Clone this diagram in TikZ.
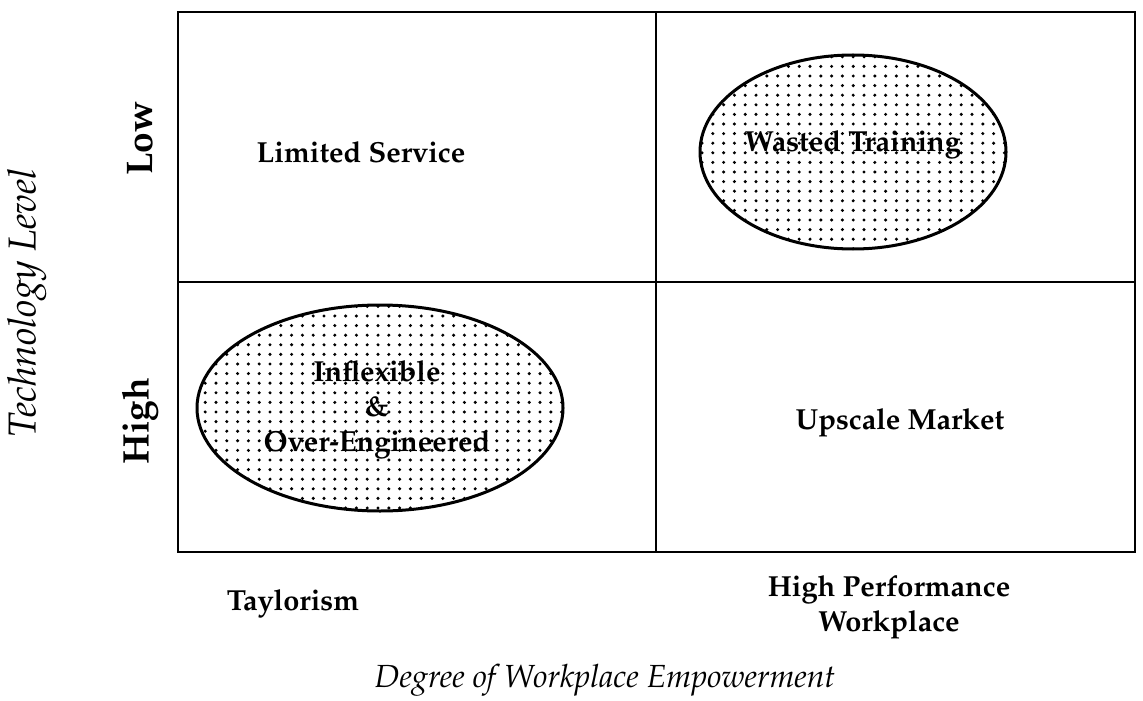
\documentclass[tikz,border=0pt]{standalone}
\usepackage[T1]{fontenc}
\usepackage{mathpazo}
\usetikzlibrary{shapes.geometric,patterns}

% coarse dot screen for the shaded ellipses
\pgfdeclarepatternformonly{stipple}{\pgfqpoint{-1pt}{-1pt}}{\pgfqpoint{1pt}{1pt}}{\pgfqpoint{5.4pt}{4.8pt}}{%
  \pgfpathcircle{\pgfpointorigin}{0.85pt}\pgfusepath{fill}}

\tikzset{
  quad/.style={font=\fontsize{14.5}{17.5}\selectfont\bfseries, align=center},
  side/.style={font=\fontsize{18.5}{22}\selectfont\bfseries, rotate=90},
  axis/.style={font=\fontsize{16}{19}\selectfont\itshape},
  blob/.style={ellipse, draw, line width=1.5pt, pattern=stipple, inner sep=0pt},
  frame/.style={line width=1.3pt},
}

\begin{document}
\begin{tikzpicture}[x=0.5pt,y=-0.5pt]
\useasboundingbox (0,0) rectangle (1143,700);

% the 2x2 grid
\draw[frame] (178,12) rectangle (1135,552);
\draw[frame] (656,12) -- (656,552);
\draw[frame] (178,282) -- (1135,282);

% shaded regions
\node[blob, minimum width=153pt, minimum height=97pt] (wasteblob) at (853,152) {};
\node[blob, minimum width=183pt, minimum height=103pt] (rigidblob) at (380,408) {};

% quadrant labels
\node[quad] (limited) at (361,152) {Limited Service};
\node[quad] (wasted) at (853,145) {Wasted Training};
\node[quad] (rigid) at (377,410) {Inflexible\\\&\\Over-Engineered};
\node[quad] (upscale) at (900,423) {Upscale Market};

% row and column labels
\node[side] (low) at (140,139) {Low};
\node[side] (high) at (140,421) {High};
\node[quad] (taylor) at (293,604) {Taylorism};
\node[quad] (hpw) at (889,607) {High Performance\\Workplace};

% axis titles
\node[axis, font=\fontsize{19.5}{22}\selectfont\itshape, rotate=90] (tech) at (27,303) {Technology Level};
\node[axis] (degree) at (605,680) {Degree of Workplace Empowerment};
\end{tikzpicture}
\end{document}
